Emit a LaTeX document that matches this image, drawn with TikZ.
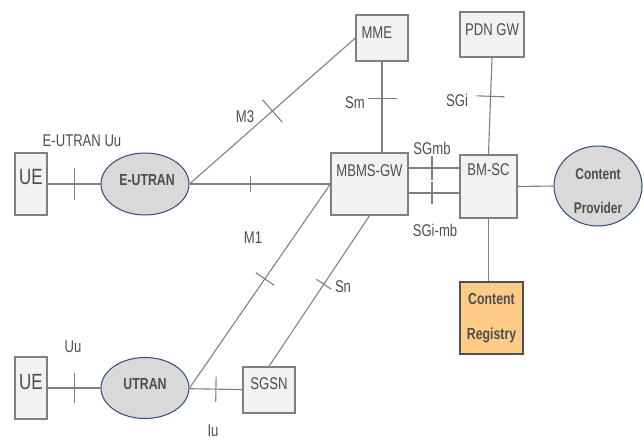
\documentclass[tikz,border=0pt]{standalone}
\usepackage{fontspec}
\setmainfont{Liberation Sans}[FakeStretch=0.77]
\usetikzlibrary{shapes.geometric,decorations.markings}
\definecolor{txt}{HTML}{4D4D4D}
\definecolor{ln}{HTML}{808080}
\definecolor{boxfill}{HTML}{F2F2F2}
\definecolor{boxdraw}{HTML}{7F7F7F}
\definecolor{ellfill}{HTML}{D9D9D9}
\definecolor{elldraw}{HTML}{2E4A7A}
\definecolor{regfill}{HTML}{FFCC88}
\definecolor{regdraw}{HTML}{505050}
\begin{document}
\begin{tikzpicture}[x=1pt,y=-1pt,
  every node/.style={text=txt, font=\fontsize{17}{20}\selectfont},
  box/.style={draw=boxdraw, fill=boxfill, line width=1.3pt, inner sep=0pt},
  ell/.style={ellipse, draw=elldraw, fill=ellfill, line width=1pt, inner sep=0pt,
    font=\bfseries\fontsize{16}{20}\selectfont},
  conn/.style={draw=ln, line width=1.1pt},
  tickat/.style 2 args={postaction={decorate, decoration={markings,
    mark=at position #1 with {\draw[ln, line width=1.1pt] (0pt,-#2)--(0pt,#2);}}}},
  bigtxt/.style={font=\fontsize{22}{24}\selectfont}
]
\useasboundingbox (0,0) rectangle (644,441);

% nodes
\node[box, bigtxt, minimum width=32pt, minimum height=62pt, text height=16pt, text depth=14.2pt] (UE1) at (31,184) {UE};
\node[ell, minimum width=88pt, minimum height=62pt, text height=12pt, text depth=8.5pt] (EU) at (145,184) {E-UTRAN\hspace*{-4pt}};
\node[box, bigtxt, minimum width=32pt, minimum height=62pt, text height=16pt, text depth=13.5pt] (UE2) at (31,388) {UE};
\node[ell, minimum width=88pt, minimum height=61pt, text height=12pt, text depth=9pt] (UT) at (145,388) {UTRAN};
\node[box, minimum width=52pt, minimum height=46pt, text height=12pt, text depth=12.2pt] (SGSN) at (269,390) {SGSN};
\node[box, minimum width=52pt, minimum height=46pt, text height=12pt, text depth=10pt, text width=41pt, align=left] (MME) at (382,38) {MME};
\node[box, minimum width=64pt, minimum height=45pt, text height=12pt, text depth=9.2pt] (PDN) at (492,34.5) {PDN GW};
\node[box, minimum width=77pt, minimum height=62pt, text height=12pt, text depth=28pt] (MBMS) at (369.5,184) {MBMS-GW};
\node[box, minimum width=57pt, minimum height=63pt, text height=12pt, text depth=35pt] (BMSC) at (488.5,186.5) {BM-SC};
\node[ell, minimum width=88pt, minimum height=80pt, align=center,
  font=\bfseries\fontsize{15.5}{34}\selectfont] (CP) at (598,186) {\rule{0pt}{21pt}Content\\Provider};
\node[draw=regdraw, fill=regfill, line width=2pt, inner sep=0pt, minimum width=63pt, minimum height=72pt,
  align=center, font=\bfseries\fontsize{16}{35}\selectfont] (CR) at (491.5,318) {Content\\Registry};

% connectors
\draw[conn, tickat={0.5}{16pt}] (UE1) -- (EU);
\draw[conn, tickat={0.43}{8pt}] (EU) -- (MBMS);
\draw[conn, tickat={0.5}{15pt}] (EU.east) -- (MME.west);
\draw[conn, tickat={0.535}{11pt}] (UT.east) -- (MBMS.west);
\draw[conn, tickat={0.545}{9pt}] (SGSN.north) -- (MBMS.south);
\draw[conn, tickat={0.41}{14.5pt}] (MME.south) -- (MME.south |- MBMS.north);
\draw[conn, tickat={0.40}{14pt}] (PDN.south) -- (BMSC.north);
\coordinate (g1) at ([yshift=16pt]MBMS.east);
\coordinate (g2) at ([yshift=-9pt]MBMS.east);
\draw[conn, tickat={0.46}{12pt}] (g1) -- (g1 -| BMSC.west);
\draw[conn, tickat={0.46}{11pt}] (g2) -- (g2 -| BMSC.west);
\draw[conn] (BMSC.east) -- (CP.west);
\draw[conn] (BMSC.south) -- (BMSC.south |- CR.north);
\draw[conn, tickat={0.5}{15pt}] (UE2) -- (UT);
\draw[conn, tickat={0.5}{12.5pt}] (UT) -- (SGSN);

% labels
\node (lEUu) at (82,141) {E-UTRAN Uu};
\node (lUu) at (73,347) {Uu};
\node (lIu) at (213,431) {Iu};
\node (lM3) at (245,117) {M3};
\node (lM1) at (253,238) {M1};
\node (lSn) at (343,287) {Sn};
\node (lSm) at (355,103) {Sm};
\node (lSGi) at (457,100) {SGi};
\node (lSGmb) at (432,148) {SGmb};
\node (lSGimb) at (435,230) {SGi-mb};
\end{tikzpicture}
\end{document}
